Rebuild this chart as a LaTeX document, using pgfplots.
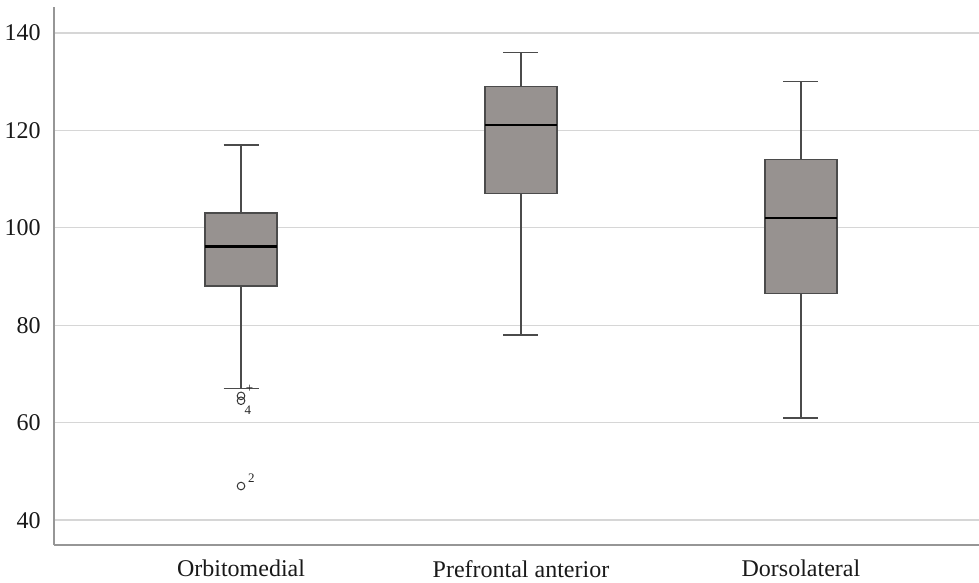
\documentclass[border=0pt]{standalone}
\usepackage{fontspec}
\setmainfont{Liberation Serif}
\usepackage{pgfplots}
\pgfplotsset{compat=1.18}
\definecolor{boxfill}{RGB}{151,146,144}
\definecolor{boxline}{RGB}{75,75,75}
\definecolor{gridc}{RGB}{214,214,214}
\definecolor{axisc}{RGB}{150,150,150}
\begin{document}
\fontsize{24bp}{28bp}\selectfont
\begin{tikzpicture}
\begin{axis}[
  scale only axis,
  width=925bp, height=538bp,
  xmin=0.332, xmax=3.636,
  ymin=34.9, ymax=145.3,
  axis lines=left,
  axis line style={axisc, line width=1.6pt, -},
  xtick={1,2,3},
  xticklabels={Orbitomedial,Prefrontal anterior,Dorsolateral},
  ytick={40,60,80,100,120,140},
  tick style={draw=none},
  ymajorgrids,
  grid style={gridc, line width=1.4pt},
  tick label style={font=\fontsize{24bp}{28bp}\selectfont, black!90},
  /pgf/number format/assume math mode=true,
  yticklabel style={xshift=-3bp},
  xticklabel style={yshift=-5bp},
  clip=false,
]
% Orbitomedial (x=1)
\addplot[fill=boxfill, draw=boxline, line width=1.5pt] coordinates {(0.8715,88) (1.1285,88) (1.1285,103) (0.8715,103)} -- cycle;
\addplot[draw=boxline, line width=1.5pt] coordinates {(1,103) (1,117)};
\addplot[draw=boxline, line width=1.5pt] coordinates {(1,88) (1,67)};
\addplot[draw=boxline, line width=1.5pt] coordinates {(0.9375,117) (1.0625,117)};
\addplot[draw=boxline, line width=1.5pt] coordinates {(0.9375,67) (1.0625,67)};
\addplot[draw=black, line width=2.6pt] coordinates {(0.8715,96.1) (1.1285,96.1)};
% Prefrontal anterior (x=2)
\addplot[fill=boxfill, draw=boxline, line width=1.5pt] coordinates {(1.8715,107) (2.1285,107) (2.1285,129) (1.8715,129)} -- cycle;
\addplot[draw=boxline, line width=1.5pt] coordinates {(2,129) (2,136)};
\addplot[draw=boxline, line width=1.5pt] coordinates {(2,107) (2,78)};
\addplot[draw=boxline, line width=1.5pt] coordinates {(1.9375,136) (2.0625,136)};
\addplot[draw=boxline, line width=1.5pt] coordinates {(1.9375,78) (2.0625,78)};
\addplot[draw=black, line width=2.6pt] coordinates {(1.8715,121.1) (2.1285,121.1)};
% Dorsolateral (x=3)
\addplot[fill=boxfill, draw=boxline, line width=1.5pt] coordinates {(2.8715,86.5) (3.1285,86.5) (3.1285,114) (2.8715,114)} -- cycle;
\addplot[draw=boxline, line width=1.5pt] coordinates {(3,114) (3,130)};
\addplot[draw=boxline, line width=1.5pt] coordinates {(3,86.5) (3,61)};
\addplot[draw=boxline, line width=1.5pt] coordinates {(2.9375,130) (3.0625,130)};
\addplot[draw=boxline, line width=1.5pt] coordinates {(2.9375,61) (3.0625,61)};
\addplot[draw=black, line width=2.6pt] coordinates {(2.8715,102) (3.1285,102)};
% outliers
\addplot[only marks, mark=o, mark size=3.8bp, draw=black!80, mark options={line width=1pt}] coordinates {(1,47) (1,64.5) (1,65.5)};
\node[font=\fontsize{13bp}{15bp}\selectfont, anchor=south west, inner sep=0pt, black!85] at (axis cs:1.025,47.6) {2};
\node[font=\fontsize{13bp}{15bp}\selectfont, anchor=north west, inner sep=0pt, black!85] at (axis cs:1.012,63.4) {4};
\node[font=\fontsize{13bp}{15bp}\selectfont, inner sep=0pt, black!85] at (axis cs:1.03,67) {+};
\end{axis}
\pgfresetboundingbox
\path (-54bp,-38bp) rectangle (925bp,545bp);
\end{tikzpicture}
\end{document}
